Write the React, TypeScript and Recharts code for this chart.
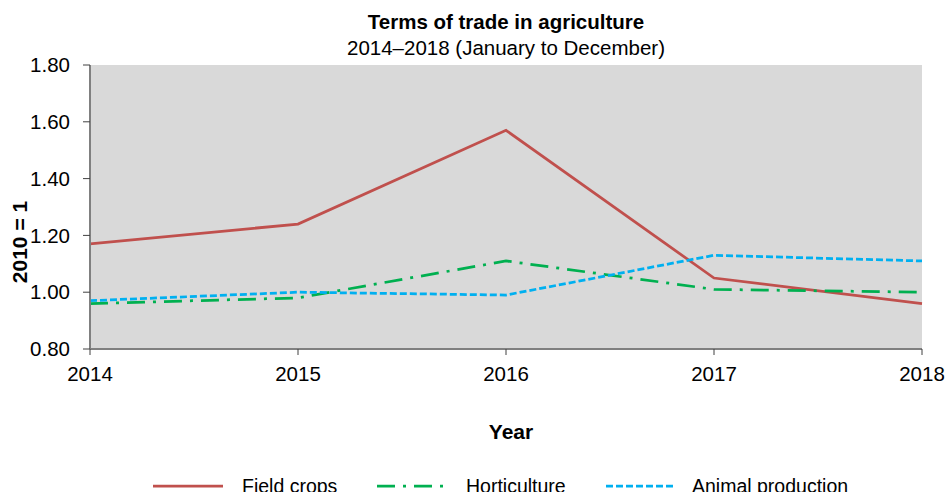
import React from "react";
import { LineChart, Line, XAxis, YAxis, CartesianGrid } from "recharts";

const years = [2014, 2015, 2016, 2017, 2018];
const fieldCrops = [1.17, 1.24, 1.57, 1.05, 0.96];
const horticulture = [0.96, 0.98, 1.11, 1.01, 1.0];
const animalProduction = [0.97, 1.0, 0.99, 1.13, 1.11];
const yTicks = [0.8, 1.0, 1.2, 1.4, 1.6, 1.8];

const data = years.map((year, i) => ({
  year,
  field: fieldCrops[i],
  hort: horticulture[i],
  animal: animalProduction[i],
}));

const FONT = "'Liberation Sans', Arial, sans-serif";
const RED = "#c0504d";
const GREEN = "#00b050";
const BLUE = "#00b0f0";
const HORT_DASH = "18 8 3 8";
const ANIMAL_DASH = "7 3";

const legendItems = [
  { label: "Field crops", color: RED, dash: undefined as string | undefined, x: 153, w: 70 },
  { label: "Horticulture", color: GREEN, dash: HORT_DASH, x: 377, w: 70 },
  { label: "Animal production", color: BLUE, dash: ANIMAL_DASH, x: 606, w: 67 },
];

function ChartLegend() {
  return (
    <svg width={947} height={30} style={{ position: "absolute", left: 0, top: 470, display: "block" }}>
      {legendItems.map((it) => (
        <g key={it.label}>
          <line x1={it.x} x2={it.x + it.w} y1={16} y2={16} stroke={it.color} strokeWidth={2.75} strokeDasharray={it.dash} />
          <text x={it.x + it.w + 19} y={23} fontSize={19.5} fontFamily={FONT} fill="#000">
            {it.label}
          </text>
        </g>
      ))}
    </svg>
  );
}

export default function App() {
  return (
    <div style={{ position: "absolute", left: 0, top: 0, width: 947, height: 492, background: "#fff", overflow: "hidden", fontFamily: FONT }}>
      <LineChart width={947} height={492} data={data} margin={{ top: 65, right: 25, bottom: 113, left: 0 }}>
        <CartesianGrid horizontal={false} vertical={false} fill="#d9d9d9" stroke="none" />
        <XAxis
          dataKey="year"
          type="number"
          domain={[2014, 2018]}
          ticks={years}
          allowDecimals={false}
          height={30}
          tickLine={{ stroke: "#404040" }}
          tickSize={6}
          tickMargin={11}
          axisLine={{ stroke: "#808080", strokeWidth: 2 }}
          tick={{ fontSize: 20.5, fill: "#000", fontFamily: FONT }}
        />
        <YAxis
          width={90}
          domain={[0.8, 1.8]}
          ticks={yTicks}
          tickFormatter={(v: number) => v.toFixed(2)}
          tickLine={{ stroke: "#404040" }}
          tickSize={7}
          tickMargin={13}
          axisLine={{ stroke: "#808080", strokeWidth: 2 }}
          tick={{ fontSize: 20.5, fill: "#000", fontFamily: FONT }}
        />
        <Line type="linear" dataKey="field" stroke={RED} strokeWidth={2.75} dot={false} isAnimationActive={false} />
        <Line type="linear" dataKey="hort" stroke={GREEN} strokeWidth={2.75} strokeDasharray={HORT_DASH} dot={false} isAnimationActive={false} />
        <Line type="linear" dataKey="animal" stroke={BLUE} strokeWidth={2.75} strokeDasharray={ANIMAL_DASH} strokeLinejoin="round" dot={false} isAnimationActive={false} />
      </LineChart>
      <div style={{ position: "absolute", left: 90, width: 832, top: 10, textAlign: "center", fontSize: 20.5, fontWeight: "bold" }}>
        Terms of trade in agriculture
      </div>
      <div style={{ position: "absolute", left: 90, width: 832, top: 36, textAlign: "center", fontSize: 20.5 }}>
        2014–2018 (January to December)
      </div>
      <div style={{ position: "absolute", left: 90, width: 842, top: 420, textAlign: "center", fontSize: 21, fontWeight: "bold" }}>
        Year
      </div>
      <div
        style={{
          position: "absolute",
          left: 20,
          top: 242,
          transform: "translate(-50%, -50%) rotate(-90deg)",
          fontSize: 21,
          fontWeight: "bold",
          whiteSpace: "nowrap",
        }}
      >
        2010 = 1
      </div>
      <ChartLegend />
    </div>
  );
}
